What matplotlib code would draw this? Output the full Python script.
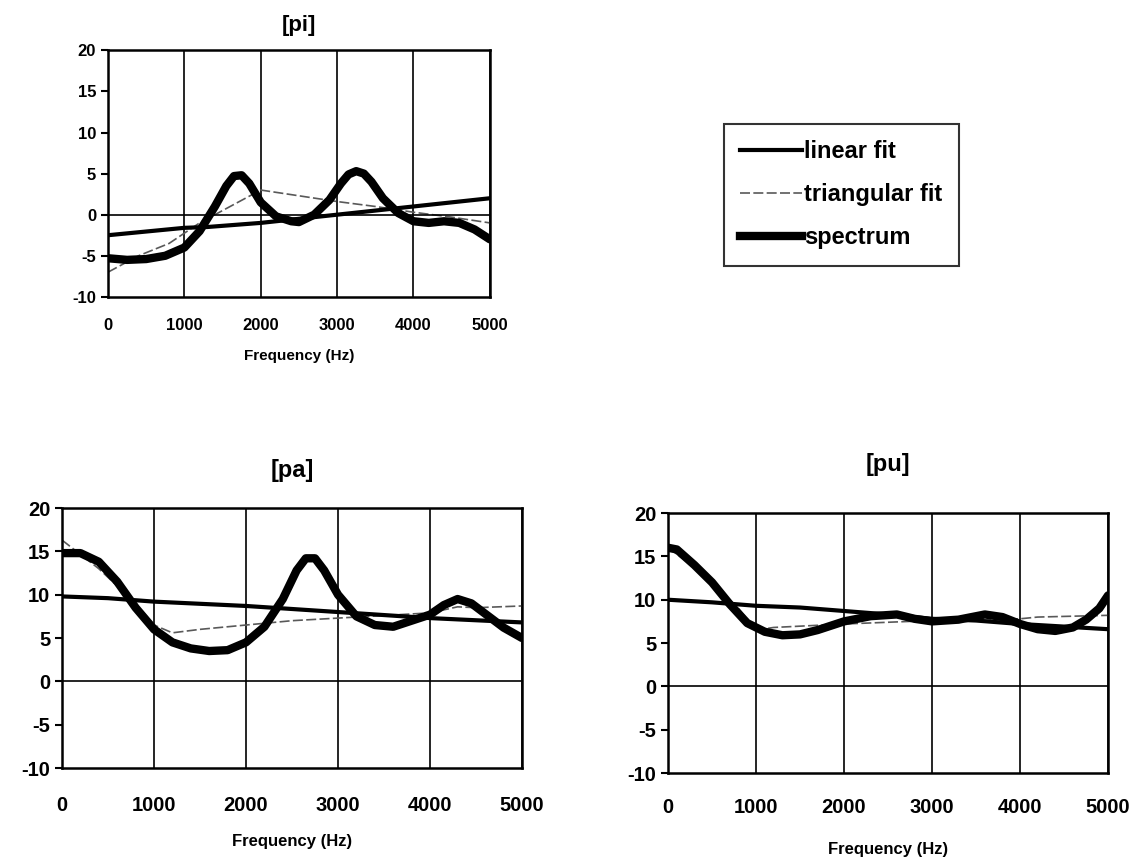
import numpy as np
import matplotlib.pyplot as plt
from matplotlib.lines import Line2D

plt.rcParams['font.family'] = ['Liberation Sans', 'DejaVu Sans']
plt.rcParams['font.weight'] = 'bold'
plt.rcParams['axes.unicode_minus'] = False

# [pi]
pi_spec_f = [0, 250, 500, 750, 1000, 1200, 1400, 1550, 1650, 1750, 1850, 2000, 2200, 2400, 2500, 2700, 2900, 3050, 3150, 3250, 3350, 3450, 3600, 3800, 4000, 4200, 4400, 4600, 4800, 5000]
pi_spec = [-5.3, -5.5, -5.4, -5.0, -4.0, -2.0, 1.0, 3.5, 4.7, 4.8, 3.8, 1.5, -0.2, -0.8, -0.9, 0.0, 1.8, 3.8, 4.9, 5.3, 5.0, 4.0, 2.0, 0.2, -0.8, -1.0, -0.8, -1.0, -1.8, -3.0]
pi_lin_f = [0, 1000, 1300, 2000, 3000, 4000, 5000]
pi_lin = [-2.5, -1.6, -1.5, -1.0, 0.0, 1.0, 2.0]
pi_tri_f = [0, 400, 800, 1200, 1500, 1800, 2000, 2500, 3000, 3500, 4000, 4500, 5000]
pi_tri = [-7.0, -5.0, -3.5, -1.0, 0.5, 2.0, 3.0, 2.3, 1.6, 1.0, 0.3, -0.3, -1.0]

# [pa]
pa_spec_f = [0, 200, 400, 600, 800, 1000, 1200, 1400, 1600, 1800, 2000, 2200, 2400, 2550, 2650, 2750, 2850, 3000, 3200, 3400, 3600, 3800, 4000, 4150, 4300, 4450, 4600, 4800, 5000]
pa_spec = [14.8, 14.8, 13.8, 11.5, 8.5, 6.0, 4.5, 3.8, 3.5, 3.6, 4.5, 6.3, 9.5, 12.8, 14.2, 14.2, 12.8, 10.0, 7.5, 6.5, 6.3, 7.0, 7.7, 8.8, 9.5, 9.0, 7.8, 6.2, 5.0]
pa_lin_f = [0, 500, 1000, 2000, 3000, 4000, 5000]
pa_lin = [9.8, 9.6, 9.2, 8.7, 8.0, 7.3, 6.8]
pa_tri_f = [0, 400, 800, 1000, 1200, 1500, 2000, 2500, 3000, 3500, 4000, 4300, 4500, 5000]
pa_tri = [16.3, 13.0, 9.0, 6.5, 5.6, 6.0, 6.5, 7.0, 7.3, 7.6, 7.9, 8.6, 8.5, 8.7]

# [pu]
pu_spec_f = [0, 100, 300, 500, 700, 900, 1100, 1300, 1500, 1700, 2000, 2300, 2600, 2800, 3000, 3300, 3600, 3800, 4000, 4200, 4400, 4600, 4750, 4900, 5000]
pu_spec = [16.0, 15.8, 14.0, 12.0, 9.5, 7.3, 6.3, 5.9, 6.0, 6.5, 7.5, 8.1, 8.3, 7.8, 7.5, 7.7, 8.3, 8.0, 7.2, 6.6, 6.4, 6.8, 7.7, 9.0, 10.5]
pu_lin_f = [0, 500, 1000, 1500, 2000, 2500, 3000, 3500, 4000, 4500, 5000]
pu_lin = [10.0, 9.7, 9.3, 9.1, 8.7, 8.3, 7.8, 7.6, 7.2, 6.9, 6.6]
pu_tri_f = [0, 400, 800, 1000, 1200, 2000, 3000, 3500, 4000, 4200, 5000]
pu_tri = [16.0, 13.0, 9.0, 6.5, 6.8, 7.2, 7.6, 7.6, 7.8, 8.0, 8.2]

fig = plt.figure(figsize=(11.4, 8.68), dpi=100)


def draw(ax, title, sf, s, lf, l, tf, t, fs, tfs, lfs, xpad, tpad, lpad):
    ax.plot(tf, t, color='0.35', lw=1.2, ls=(0, (6, 2)))
    ax.plot(lf, l, color='black', lw=3)
    ax.plot(sf, s, color='black', lw=6, solid_capstyle='round', solid_joinstyle='round')
    ax.set_xlim(0, 5000)
    ax.set_ylim(-10, 20)
    ax.set_xticks(range(0, 5001, 1000))
    ax.set_yticks(range(-10, 21, 5))
    ax.axhline(0, color='black', lw=1.2)
    ax.grid(axis='x', color='black', lw=1.2)
    for sp in ax.spines.values():
        sp.set_linewidth(1.8)
    ax.tick_params(axis='x', length=0, pad=xpad, labelsize=fs)
    ax.tick_params(axis='y', length=5, width=1.5, labelsize=fs)
    ax.set_title(title, fontsize=tfs, fontweight='bold', pad=tpad)
    ax.set_xlabel('Frequency (Hz)', fontsize=lfs, fontweight='bold', labelpad=lpad)


ax1 = fig.add_axes([0.0947, 0.658, 0.335, 0.284])
draw(ax1, '[pi]', pi_spec_f, pi_spec, pi_lin_f, pi_lin, pi_tri_f, pi_tri, 12, 16, 11, 15, 14, 12)

ax2 = fig.add_axes([0.0544, 0.1152, 0.4035, 0.2995])
draw(ax2, '[pa]', pa_spec_f, pa_spec, pa_lin_f, pa_lin, pa_tri_f, pa_tri, 14.5, 17, 12, 20, 22, 14)

ax3 = fig.add_axes([0.586, 0.1094, 0.386, 0.2995])
draw(ax3, '[pu]', pu_spec_f, pu_spec, pu_lin_f, pu_lin, pu_tri_f, pu_tri, 14.5, 17, 12, 18, 30, 18)

handles = [Line2D([], [], color='black', lw=3),
           Line2D([], [], color='0.35', lw=1.2, ls=(0, (6, 2))),
           Line2D([], [], color='black', lw=6)]
leg = fig.legend(handles, ['linear fit', 'triangular fit', 'spectrum'],
                 loc='upper left', bbox_to_anchor=(712 / 1140, 1 - 112 / 868),
                 frameon=True, fancybox=False, edgecolor='black',
                 handlelength=2.6, handletextpad=0.1, labelspacing=0.85,
                 borderpad=0.7, prop={'weight': 'bold', 'size': 17})
leg.get_frame().set_linewidth(1.5)

fig.savefig('out.png', dpi=100)
